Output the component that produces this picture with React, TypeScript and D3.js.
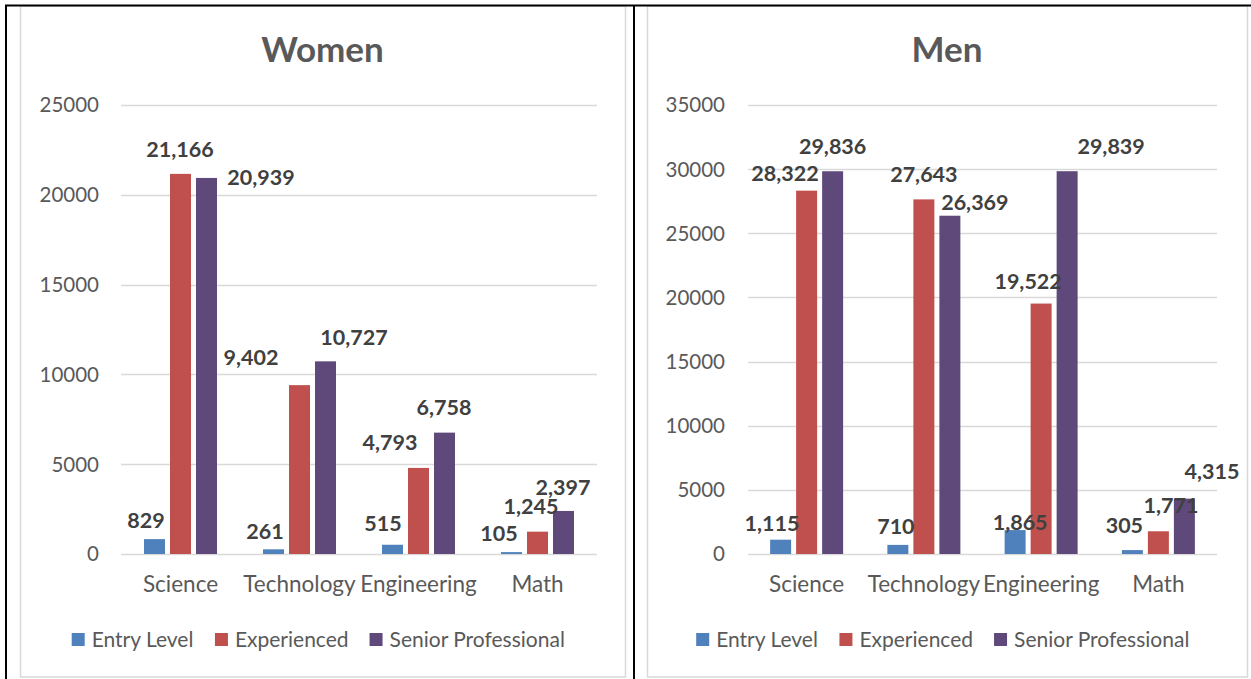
import React from "react";
import * as d3 from "d3";

const categories = ["Science", "Technology", "Engineering", "Math"];
const seriesNames = ["Entry Level", "Experienced", "Senior Professional"];
const seriesColors = ["#4F81BD", "#C0504D", "#5F497A"];

const womenEntry = [829, 261, 515, 105];
const womenExperienced = [21166, 9402, 4793, 1245];
const womenSenior = [20939, 10727, 6758, 2397];

const menEntry = [1115, 710, 1865, 305];
const menExperienced = [28322, 27643, 19522, 1771];
const menSenior = [29836, 26369, 29839, 4315];

const womenTicks = [0, 5000, 10000, 15000, 20000, 25000];
const menTicks = [0, 5000, 10000, 15000, 20000, 25000, 30000, 35000];

// label placement offsets (layout only): [dx, dy] from bar top-center, per series then category
const womenLabelOffsets = [
  [[-8.5, -19], [-8.5, -18], [-9.5, -21], [-12.5, -19]],
  [[-0.5, -25], [-48.5, -28], [-28.5, -26], [-6.5, -25]],
  [[54.5, -1], [28.5, -24], [-0.5, -25], [-0.5, -24]],
];
const menLabelOffsets = [
  [[-8.6, -16], [-2, -19], [5, -8], [-8, -25]],
  [[-21.6, -17], [0, -25], [-13, -22], [12.6, -26]],
  [[0, -25], [25, -13], [44, -25], [27.6, -27]],
];

const FONT = "Lato, 'Open Sans', sans-serif";
const fmt = d3.format(",");

function measure(text: string, font: string): number {
  if (typeof document === "undefined") return text.length * 10;
  const c = document.createElement("canvas");
  const ctx = c.getContext("2d");
  if (!ctx) return text.length * 10;
  ctx.font = font;
  return ctx.measureText(text).width;
}

type PanelProps = {
  title: string;
  series: number[][];
  ticks: number[];
  maxV: number;
  box: [number, number];
  plotX: [number, number];
  labelRight: number;
  offsets: number[][][];
};

function Panel({ title, series, ticks, maxV, box, plotX, labelRight, offsets }: PanelProps) {
  const y = d3.scaleLinear().domain([0, maxV]).range([554, 105]);
  const x = d3.scaleBand().domain(categories).range(plotX).padding(0);
  const barW = 21;
  const stride = 26;
  const cx = (box[0] + box[1]) / 2;

  const legendSize = 21;
  const legendFont = `${legendSize}px ${FONT}`;
  const widths = seriesNames.map((n) => measure(n, legendFont));
  const marker = 13;
  const gapText = 7;
  const gapItem = 21;
  const total = widths.reduce((a, w) => a + marker + gapText + w, 0) + gapItem * (seriesNames.length - 1);
  let lx = cx - 4 - total / 2;
  const legendItems = seriesNames.map((n, i) => {
    const pos = lx;
    lx += marker + gapText + widths[i] + gapItem;
    return { n, pos, color: seriesColors[i] };
  });

  return (
    <g>
      <rect x={box[0] + 0.5} y={6} width={box[1] - box[0]} height={671} fill="#fff" stroke="#d9d9d9" strokeWidth={1.5} />
      <text x={cx} y={62} textAnchor="middle" fontFamily={FONT} fontWeight="bold" fontSize={35} fill="#595959">
        {title}
      </text>
      {ticks.map((t) => (
        <g key={t}>
          <line x1={plotX[0]} x2={plotX[1]} y1={Math.round(y(t)) + 0.5} y2={Math.round(y(t)) + 0.5} stroke="#d9d9d9" strokeWidth={1.5} />
          <text x={labelRight} y={y(t)} dy="0.36em" textAnchor="end" fontFamily={FONT} fontSize={20.5} fill="#595959">
            {t}
          </text>
        </g>
      ))}
      {series.map((vals, si) =>
        vals.map((v, ci) => {
          const c = (x(categories[ci]) as number) + x.bandwidth() / 2 + (si - 1) * stride;
          return (
            <rect key={`b${si}-${ci}`} x={c - barW / 2} y={y(v)} width={barW} height={y(0) - y(v)} fill={seriesColors[si]} />
          );
        })
      )}
      {series.map((vals, si) =>
        vals.map((v, ci) => {
          const c = (x(categories[ci]) as number) + x.bandwidth() / 2 + (si - 1) * stride;
          const [dx, dy] = offsets[si][ci];
          return (
            <text
              key={`l${si}-${ci}`}
              x={c + dx}
              y={y(v) + dy}
              dy="0.36em"
              textAnchor="middle"
              fontFamily={FONT}
              fontWeight="bold"
              fontSize={21.5}
              fill="#404040"
            >
              {fmt(v)}
            </text>
          );
        })
      )}
      {categories.map((cat) => (
        <text
          key={cat}
          x={(x(cat) as number) + x.bandwidth() / 2}
          y={592}
          textAnchor="middle"
          fontFamily={FONT}
          fontSize={22.5}
          fill="#595959"
        >
          {cat}
        </text>
      ))}
      {legendItems.map((it) => (
        <g key={it.n}>
          <rect x={it.pos} y={633} width={marker} height={marker} fill={it.color} />
          <text x={it.pos + marker + gapText} y={647} fontFamily={FONT} fontSize={legendSize} fill="#595959">
            {it.n}
          </text>
        </g>
      ))}
    </g>
  );
}

export default function App() {
  return (
    <svg
      width={1251}
      height={679}
      style={{ position: "absolute", left: 0, top: 0, background: "#fff" }}
    >
      <rect x={0} y={0} width={1251} height={679} fill="#fff" />
      <Panel
        title="Women"
        series={[womenEntry, womenExperienced, womenSenior]}
        ticks={womenTicks}
        maxV={25000}
        box={[20, 625]}
        plotX={[121, 597]}
        labelRight={99}
        offsets={womenLabelOffsets}
      />
      <Panel
        title="Men"
        series={[menEntry, menExperienced, menSenior]}
        ticks={menTicks}
        maxV={35000}
        box={[647, 1247]}
        plotX={[748, 1217]}
        labelRight={725}
        offsets={menLabelOffsets}
      />
      <line x1={5} x2={1251} y1={5.5} y2={5.5} stroke="#000" strokeWidth={2} />
      <line x1={6} x2={6} y1={5} y2={679} stroke="#000" strokeWidth={2} />
      <line x1={634} x2={634} y1={5} y2={679} stroke="#000" strokeWidth={2} />
    </svg>
  );
}
